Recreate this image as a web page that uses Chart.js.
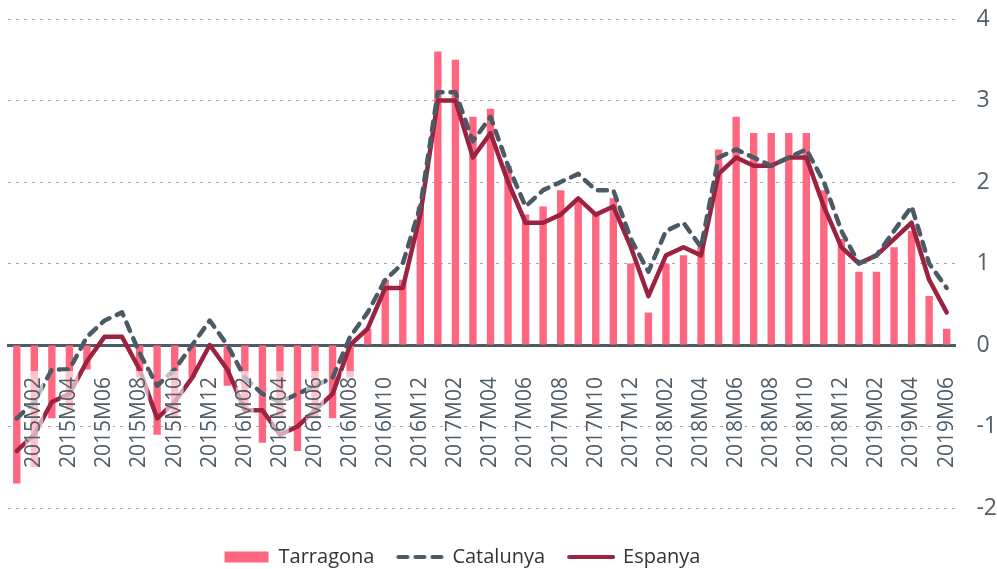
<!DOCTYPE html>
<html lang="ca">
<head>
<meta charset="utf-8">
<title>Tarragona · Catalunya · Espanya</title>
<script src="https://cdn.jsdelivr.net/npm/chart.js@4.4.1/dist/chart.umd.min.js"></script>
<style>
  html, body { margin: 0; padding: 0; background: #fff; }
  #wrap { position: relative; width: 997px; height: 569px; }
</style>
</head>
<body>
<div id="wrap"><canvas id="chart"></canvas></div>
<script>
// ── Data (monthly, 2015M01 – 2019M06) ──
const months = [
  '2015M01','2015M02','2015M03','2015M04','2015M05','2015M06','2015M07','2015M08','2015M09','2015M10','2015M11','2015M12',
  '2016M01','2016M02','2016M03','2016M04','2016M05','2016M06','2016M07','2016M08','2016M09','2016M10','2016M11','2016M12',
  '2017M01','2017M02','2017M03','2017M04','2017M05','2017M06','2017M07','2017M08','2017M09','2017M10','2017M11','2017M12',
  '2018M01','2018M02','2018M03','2018M04','2018M05','2018M06','2018M07','2018M08','2018M09','2018M10','2018M11','2018M12',
  '2019M01','2019M02','2019M03','2019M04','2019M05','2019M06'
];

const tarragona = [
  -1.7, -1.5, -0.9, -0.8, -0.3, 0, 0, -0.4, -1.1, -0.9, -0.4, 0,
  -0.5, -0.8, -1.2, -0.9, -1.3, -0.9, -0.9, -0.4, 0.2, 0.8, 0.8, 1.7,
  3.6, 3.5, 2.8, 2.9, 2.2, 1.6, 1.7, 1.9, 1.8, 1.6, 1.8, 1.0,
  0.4, 1.0, 1.1, 1.2, 2.4, 2.8, 2.6, 2.6, 2.6, 2.6, 1.9, 1.3,
  0.9, 0.9, 1.2, 1.4, 0.6, 0.2
];

const catalunya = [
  -0.9, -0.7, -0.3, -0.3, 0.1, 0.3, 0.4, -0.1, -0.5, -0.3, 0.0, 0.3,
  0.0, -0.4, -0.6, -0.7, -0.6, -0.5, -0.4, 0.1, 0.4, 0.8, 1.0, 1.7,
  3.1, 3.1, 2.5, 2.8, 2.2, 1.7, 1.9, 2.0, 2.1, 1.9, 1.9, 1.3,
  0.9, 1.4, 1.5, 1.2, 2.3, 2.4, 2.3, 2.2, 2.3, 2.4, 2.0, 1.4,
  1.0, 1.1, 1.4, 1.7, 1.0, 0.7
];

const espanya = [
  -1.3, -1.1, -0.7, -0.6, -0.2, 0.1, 0.1, -0.3, -0.9, -0.7, -0.4, 0.0,
  -0.3, -0.8, -0.8, -1.1, -1.0, -0.8, -0.6, 0.0, 0.2, 0.7, 0.7, 1.6,
  3.0, 3.0, 2.3, 2.6, 2.0, 1.5, 1.5, 1.6, 1.8, 1.6, 1.7, 1.2,
  0.6, 1.1, 1.2, 1.1, 2.1, 2.3, 2.2, 2.2, 2.3, 2.3, 1.7, 1.2,
  1.0, 1.1, 1.3, 1.5, 0.8, 0.4
];

const yMin = -2;
const yMax = 4;
const yStep = 1;

// ── Colours ──
const PINK = '#ff6680';
const SLATE = '#4b5a64';
const CRIMSON = '#9b2341';
const TEXT = '#505c66';

const FONT = "'Open Sans', 'DejaVu Sans', sans-serif";
const CAT_DASH = [9, 8];
const LINE_W = 4.5;
const Y_PAD = 21;

// ── Legend swatches for the two lines (keeps the dash in the key) ──
function lineSwatch(color, dash) {
  const c = document.createElement('canvas');
  c.width = 50;
  c.height = 8;
  const g = c.getContext('2d');
  g.strokeStyle = color;
  g.lineWidth = 4;
  g.lineCap = 'round';
  g.setLineDash(dash);
  g.beginPath();
  g.moveTo(3, 4);
  g.lineTo(47, 4);
  g.stroke();
  return c;
}
const swatches = ['rect', lineSwatch(SLATE, CAT_DASH), lineSwatch(CRIMSON, [])];

// legend sits a little left of centre in the original
const legendNudge = {
  id: 'legendNudge',
  afterLayout(chart) {
    const lg = chart.legend;
    if (lg) { lg.left -= 40; lg.right -= 40; }
  }
};

new Chart(document.getElementById('chart'), {
  type: 'bar',
  data: {
    labels: months,
    datasets: [
      {
        label: 'Tarragona',
        data: tarragona,
        backgroundColor: PINK,
        borderWidth: 0,
        barPercentage: 1,
        categoryPercentage: 0.42,
        order: 3
      },
      {
        type: 'line',
        label: 'Catalunya',
        data: catalunya,
        borderColor: SLATE,
        backgroundColor: SLATE,
        borderWidth: LINE_W,
        borderDash: CAT_DASH,
        borderCapStyle: 'round',
        borderJoinStyle: 'round',
        pointRadius: 0,
        tension: 0,
        order: 1
      },
      {
        type: 'line',
        label: 'Espanya',
        data: espanya,
        borderColor: CRIMSON,
        backgroundColor: CRIMSON,
        borderWidth: LINE_W,
        borderCapStyle: 'round',
        borderJoinStyle: 'round',
        pointRadius: 0,
        tension: 0,
        order: 2
      }
    ]
  },
  options: {
    responsive: true,
    maintainAspectRatio: false,
    animation: false,
    layout: { padding: { left: 8, right: 0, top: 19, bottom: -8 } },
    scales: {
      x: {
        type: 'category',
        offset: true,
        position: { y: 0 },
        grid: { display: false, drawTicks: false },
        border: { display: true, color: SLATE, width: 3 },
        afterFit: s => { s.paddingLeft = 0; s.paddingRight = 0; s.paddingTop = 0; s.paddingBottom = 0; },
        ticks: {
          z: 1,
          autoSkip: false,
          minRotation: 90,
          maxRotation: 90,
          padding: 32,
          labelOffset: -9,
          color: TEXT,
          font: { family: FONT, size: 21, lineHeight: 0.85 },
          showLabelBackdrop: true,
          backdropColor: 'rgba(255,255,255,0.6)',
          backdropPadding: { left: 3, right: 6, top: 0, bottom: 0 },
          callback: (v, i) => (i % 2 === 1 ? months[i] : null)
        }
      },
      y: {
        position: 'right',
        min: yMin,
        max: yMax,
        grid: { color: '#a9a9a9', lineWidth: 1, drawTicks: false },
        border: { display: false, dash: [3, 5] },
        // only one label gap on the right, no overhang above/below
        afterFit: s => { s.width -= Y_PAD; s.paddingTop = 0; s.paddingBottom = 0; },
        ticks: {
          stepSize: yStep,
          padding: Y_PAD,
          color: TEXT,
          font: { family: FONT, size: 23 }
        }
      }
    },
    plugins: {
      tooltip: { enabled: false },
      legend: {
        position: 'bottom',
        title: { display: true, text: '', padding: 0, font: { size: 12.5 } },
        labels: {
          usePointStyle: true,
          pointStyleWidth: 44,
          boxWidth: 44,
          boxHeight: 11,
          padding: 24,
          color: '#333',
          font: { family: FONT, size: 20 },
          sort: (a, b) => a.datasetIndex - b.datasetIndex,
          generateLabels: chart =>
            Chart.defaults.plugins.legend.labels.generateLabels(chart).map(item => ({
              ...item,
              pointStyle: swatches[item.datasetIndex]
            }))
        }
      }
    }
  },
  plugins: [legendNudge]
});
</script>
</body>
</html>
